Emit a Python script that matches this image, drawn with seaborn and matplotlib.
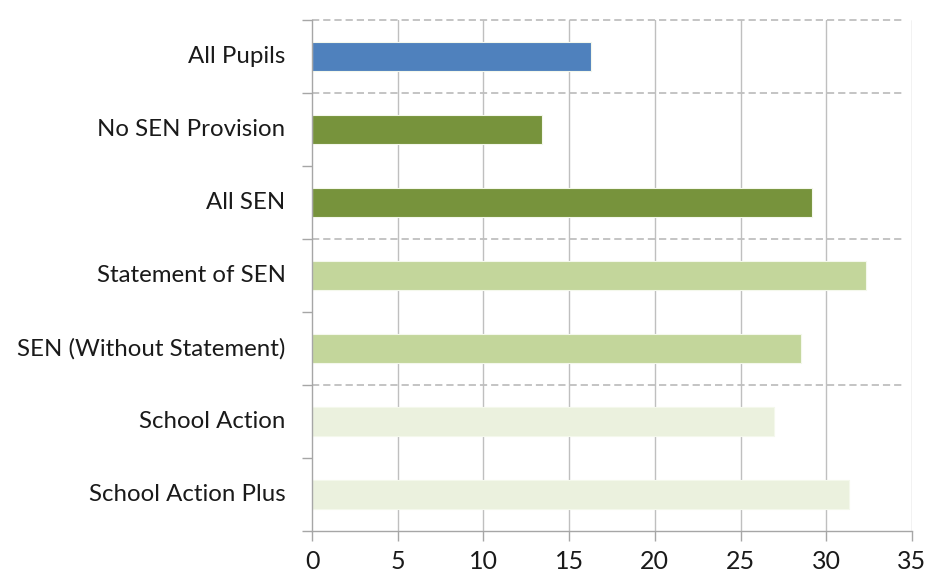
import matplotlib
matplotlib.use("Agg")
import matplotlib.pyplot as plt
import matplotlib.transforms as mtransforms
import seaborn as sns
import pandas as pd

categories = ["All Pupils", "No SEN Provision", "All SEN", "Statement of SEN",
              "SEN (Without Statement)", "School Action", "School Action Plus"]
values = [16.3, 13.4, 29.15, 32.3, 28.55, 26.95, 31.3]
bar_colors = ["#4F81BD", "#77933C", "#77933C", "#C3D69B", "#C3D69B", "#EBF1DE", "#EBF1DE"]
x_ticks = [0, 5, 10, 15, 20, 25, 30, 35]
separators = [-0.5, 0.5, 2.5, 4.5]

sns.set_theme(style="white")
plt.rcParams["font.family"] = ["Lato", "DejaVu Sans"]

df = pd.DataFrame({"category": categories, "value": values})

fig = plt.figure(figsize=(9.32, 5.75), dpi=100)
ax = fig.add_axes([312/932, 1-531/575, 600/932, 511/575])

sns.barplot(data=df, y="category", x="value", hue="category", palette=bar_colors,
            orient="h", dodge=False, legend=False, width=0.39, ax=ax,
            edgecolor="#F4F8EC", linewidth=0.8, saturation=1)

grid_c = "#BFBFBF"
ax.set_xlim(0, 35)
ax.set_ylim(6.5, -0.5)
ax.set_xticks(x_ticks)
ax.set_xticklabels([str(t) for t in x_ticks])
for t in x_ticks[1:]:
    ax.axvline(t, color=grid_c, lw=1.0, zorder=0)
for s in separators:
    ax.plot([0, 34.4], [s, s], color=grid_c, lw=1.3, ls=(0, (4, 2.2)), zorder=1, clip_on=False)

ax.set_yticks(range(len(categories)))
ax.set_yticklabels(categories)
ax.set_yticks([i - 0.5 for i in range(len(categories) + 1)], minor=True)
ax.tick_params(axis="y", which="major", length=0, pad=19, labelsize=17.3, labelcolor="#1A1A1A")
ax.tick_params(axis="y", which="minor", length=7, width=1, color="#A6A6A6", left=True, direction="out")
ax.tick_params(axis="x", which="major", length=7, width=1, color="#A6A6A6", bottom=True,
               direction="out", pad=7, labelsize=18, labelcolor="#1A1A1A")

offset = mtransforms.ScaledTranslation(0, 2/100, fig.dpi_scale_trans)
for lab in ax.get_yticklabels():
    lab.set_transform(lab.get_transform() + offset)

for sp in ["top", "right"]:
    ax.spines[sp].set_visible(False)
for sp in ["left", "bottom"]:
    ax.spines[sp].set_color("#A6A6A6")
    ax.spines[sp].set_linewidth(1)

ax.set_xlabel("")
ax.set_ylabel("")

fig.savefig("out.png", dpi=100)
